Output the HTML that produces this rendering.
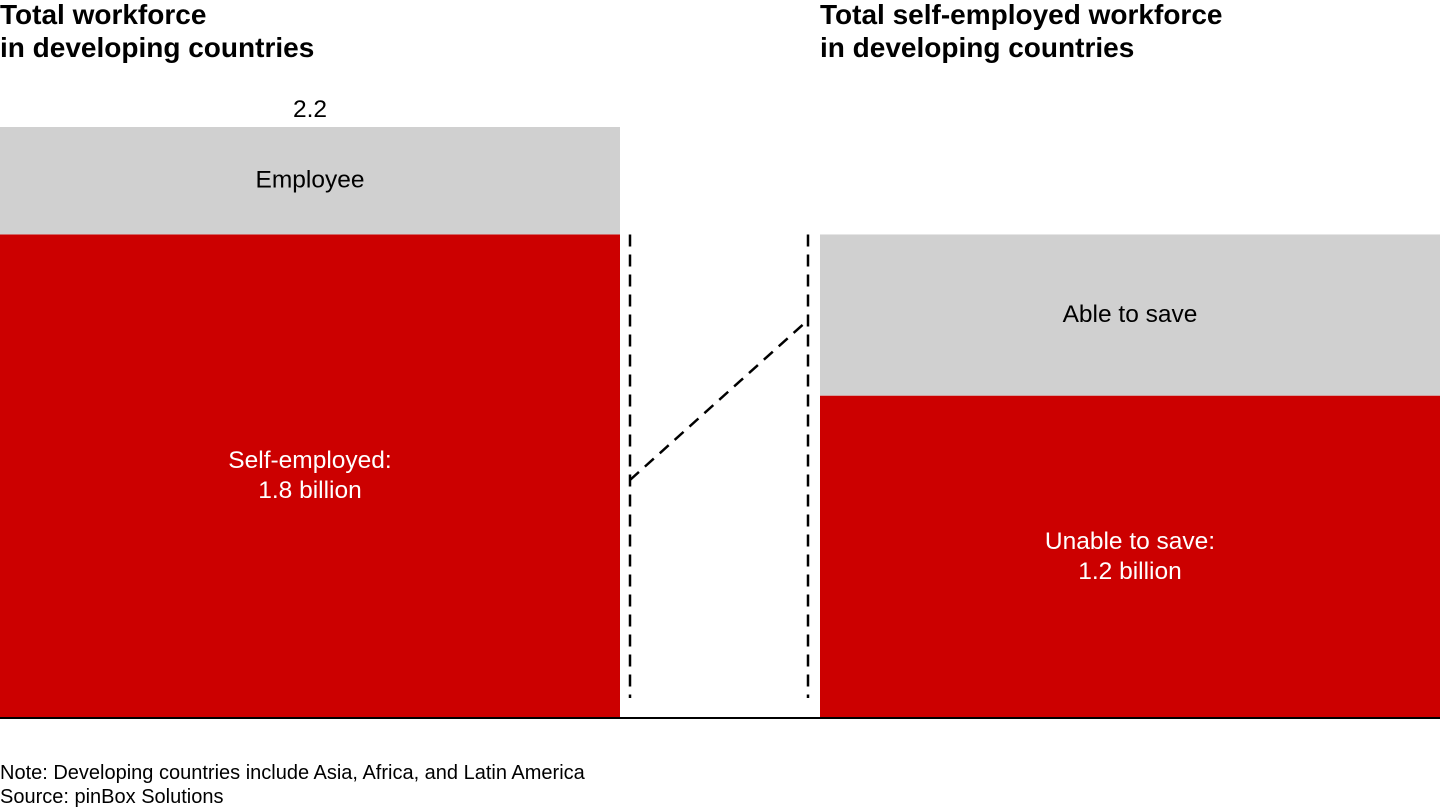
<!DOCTYPE html>
<html><head><meta charset="utf-8"><style>
body{margin:0;width:1440px;height:810px;background:#fff;overflow:hidden;font-family:"Liberation Sans",Arial,sans-serif}
svg{display:block}
</style></head><body>
<svg id="chart" width="1440" height="810" xmlns="http://www.w3.org/2000/svg" font-family="Liberation Sans, Arial, sans-serif">
<text x="0" y="24" font-size="28" font-weight="bold">Total workforce</text>
<text x="0" y="57" font-size="28" font-weight="bold">in developing countries</text>
<text x="820" y="24" font-size="28" font-weight="bold">Total self-employed workforce</text>
<text x="820" y="57" font-size="28" font-weight="bold">in developing countries</text>
<g id="marks"></g>
<line x1="0" y1="718" x2="1440" y2="718" stroke="#000" stroke-width="2"/>
<text x="0" y="779" font-size="20">Note: Developing countries include Asia, Africa, and Latin America</text>
<text x="0" y="803" font-size="20">Source: pinBox Solutions</text>
</svg>
<script>
const leftCategories = ["Self-employed", "Employee"];
const leftValues = [1.8, 0.4];
const rightCategories = ["Unable to save", "Able to save"];
const rightValues = [1.2, 0.6];
const leftTotalLabel = "2.2";
const leftLabels = ["Self-employed:|1.8 billion", "Employee"];
const rightLabels = ["Unable to save:|1.2 billion", "Able to save"];

const NS = "http://www.w3.org/2000/svg";
const g = document.getElementById("marks");
const baseY = 718, pxPerUnit = 591 / 2.2;
function y(v){ return baseY - v * pxPerUnit; }
function mk(tag, attrs){ const e = document.createElementNS(NS, tag); for (const k in attrs) e.setAttribute(k, attrs[k]); g.appendChild(e); return e; }

function drawStack(x0, w, values, cats, labels){
  let cum = 0;
  const colors = ["#cc0000", "#d0d0d0"];
  const textColors = ["#fff", "#000"];
  values.forEach((v, i) => {
    const top = y(cum + v), bot = y(cum);
    const r = mk("rect", {x:x0, y:top, width:w, height:bot-top, fill:colors[i]});
    
    
    const lines = labels[i].split("|");
    const cy = (top + bot) / 2;
    lines.forEach((ln, j) => {
      const t = mk("text", {x:x0 + w/2, y: cy + 7 + (j - (lines.length-1)/2) * 30, "text-anchor":"middle", "font-size":24.5, fill:textColors[i]});
      t.textContent = ln;
      
      
    });
    cum += v;
  });
  return cum;
}
const lt = drawStack(0, 620, leftValues, leftCategories, leftLabels);
const tl = mk("text", {x:310, y:y(lt) - 10, "text-anchor":"middle", "font-size":24.5});
tl.textContent = leftTotalLabel;


const rt = drawStack(820, 620, rightValues, rightCategories, rightLabels);

const dash = {stroke:"#000", "stroke-width":2.5, "stroke-dasharray":"12,8", fill:"none"};
const v1 = mk("line", Object.assign({x1:630, y1:y(leftValues[0]), x2:630, y2:698}, dash));


const v2 = mk("line", Object.assign({x1:808, y1:y(rt), x2:808, y2:698}, dash));


const d = mk("line", Object.assign({x1:630, y1:480, x2:808, y2:320}, dash));


</script>
</body></html>
